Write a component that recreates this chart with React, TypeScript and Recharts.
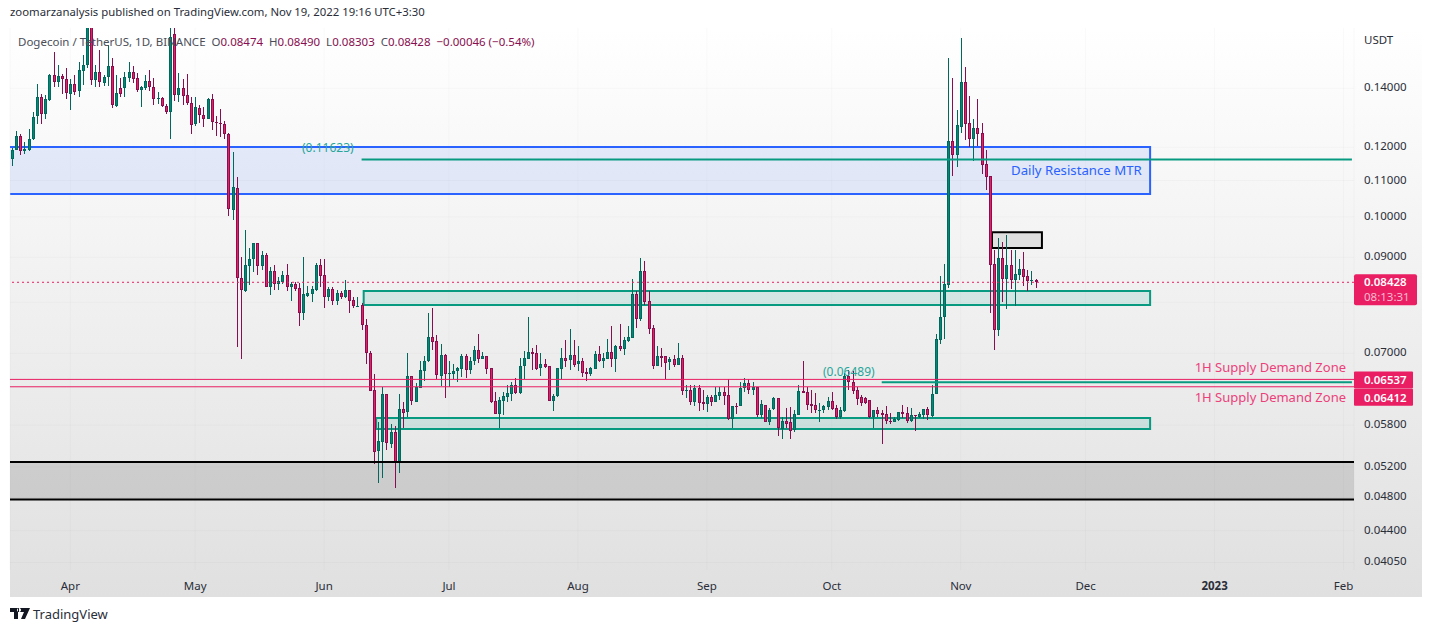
import {
  ComposedChart, Bar, XAxis, YAxis, CartesianGrid, ReferenceArea, ReferenceLine,
} from 'recharts';

const FONT = '"Noto Sans", sans-serif';
const UP_FILL = '#00897b';
const UP_EDGE = '#00695c';
const DOWN_FILL = '#e91e63';
const DOWN_EDGE = '#880e4f';
const TEAL = '#089981';
const PINK = '#e91e63';
const BLUE = '#2962ff';

// daily candles, 2022-03-18 to 2022-11-19
const opens = [
  .1164,.1194,.1235,.1189,.1191,.1225,.1300,.1367,.1306,.1358,
  .1450,.1424,.1445,.1433,.1380,.1415,.1389,.1466,.1486,.1720,
  .1432,.1461,.1420,.1441,.1483,.1337,.1401,.1400,.1440,.1462,
  .1437,.1393,.1400,.1427,.1406,.1364,.1365,.1337,.1317,.1615,
  .1376,.1400,.1376,.1349,.1275,.1331,.1307,.1293,.1361,.1281,
  .1277,.1274,.1241,.1017,.1080,.0852,.0825,.0880,.0896,.0934,
  .0880,.0905,.0833,.0868,.0840,.0844,.0859,.0833,.0839,.0830,
  .0778,.0813,.0818,.0826,.0882,.0859,.0810,.0828,.0803,.0819,
  .0810,.0826,.0804,.0792,.0794,.0753,.0700,.0636,.0541,.0555,
  .0629,.0553,.0570,.0527,.0605,.0599,.0659,.0617,.0640,.0669,
  .0685,.0730,.0722,.0660,.0697,.0663,.0663,.0667,.0672,.0695,
  .0670,.0686,.0706,.0690,.0695,.0673,.0618,.0597,.0618,.0624,
  .0629,.0644,.0630,.0676,.0690,.0702,.0701,.0673,.0680,.0677,
  .0618,.0625,.0672,.0691,.0688,.0697,.0681,.0686,.0666,.0662,
  .0672,.0699,.0686,.0689,.0702,.0690,.0714,.0708,.0723,.0729,
  .0817,.0766,.0868,.0802,.0748,.0677,.0695,.0695,.0683,.0689,
  .0679,.0691,.0634,.0636,.0616,.0639,.0616,.0613,.0624,.0616,
  .0626,.0632,.0627,.0589,.0610,.0610,.0638,.0647,.0636,.0641,
  .0595,.0611,.0585,.0604,.0622,.0574,.0587,.0585,.0572,.0596,
  .0634,.0632,.0613,.0611,.0603,.0603,.0609,.0618,.0606,.0592,
  .0602,.0659,.0649,.0636,.0624,.0623,.0620,.0592,.0603,.0598,
  .0597,.0587,.0585,.0588,.0600,.0598,.0586,.0595,.0593,.0596,
  .0605,.0595,.0630,.0725,.0769,.0838,.1220,.1176,.1267,.1424,
  .1278,.1226,.1262,.1245,.1148,.1113,.0884,.0744,.0898,.0850,
  .0882,.0848,.0859,.0873,.0857,.0846,.08474,
];
const closes = [
  .1191,.1237,.1189,.1194,.1226,.1298,.1367,.1306,.1360,.1450,
  .1424,.1446,.1433,.1380,.1415,.1387,.1468,.1488,.1700,.1432,
  .1461,.1424,.1441,.1484,.1340,.1382,.1379,.1441,.1462,.1436,
  .1391,.1404,.1427,.1406,.1362,.1365,.1337,.1317,.1601,.1376,
  .1400,.1372,.1348,.1275,.1332,.1306,.1293,.1361,.1283,.1276,
  .1274,.1241,.1019,.1081,.0853,.0825,.0882,.0896,.0934,.0880,
  .0905,.0833,.0868,.0839,.0846,.0859,.0833,.0839,.0829,.0778,
  .0817,.0819,.0828,.0882,.0856,.0810,.0828,.0803,.0819,.0810,
  .0826,.0803,.0792,.0793,.0754,.0699,.0634,.0541,.0556,.0629,
  .0553,.0570,.0527,.0605,.0599,.0659,.0617,.0641,.0670,.0686,
  .0730,.0721,.0660,.0697,.0663,.0665,.0668,.0673,.0695,.0670,
  .0686,.0706,.0690,.0695,.0672,.0616,.0597,.0620,.0626,.0631,
  .0644,.0630,.0677,.0691,.0702,.0699,.0673,.0680,.0675,.0618,
  .0626,.0673,.0691,.0686,.0697,.0679,.0686,.0665,.0662,.0673,
  .0699,.0686,.0691,.0702,.0690,.0714,.0708,.0725,.0730,.0817,
  .0766,.0868,.0800,.0746,.0677,.0695,.0692,.0683,.0689,.0679,
  .0691,.0634,.0635,.0616,.0639,.0615,.0613,.0624,.0616,.0627,
  .0632,.0625,.0589,.0610,.0609,.0639,.0647,.0636,.0641,.0595,
  .0613,.0585,.0604,.0622,.0575,.0586,.0583,.0572,.0597,.0634,
  .0631,.0611,.0610,.0603,.0604,.0610,.0618,.0605,.0592,.0603,
  .0659,.0648,.0634,.0622,.0615,.0615,.0593,.0603,.0597,.0595,
  .0586,.0585,.0589,.0600,.0597,.0586,.0595,.0593,.0597,.0605,
  .0595,.0630,.0727,.0769,.0838,.1220,.1176,.1272,.1424,.1275,
  .1226,.1262,.1241,.1145,.1110,.0882,.0744,.0898,.0850,.0882,
  .0848,.0861,.0873,.0854,.0846,.0847,.08428,
];
const highs = [
  .1197,.1251,.1241,.1218,.1258,.1315,.1416,.1379,.1376,.1454,
  .1541,.1488,.1454,.1478,.1434,.1450,.1499,.1527,.1780,.1800,
  .1488,.1546,.1450,.1568,.1514,.1450,.1437,.1463,.1499,.1483,
  .1456,.1408,.1450,.1469,.1437,.1385,.1367,.1343,.1750,.1780,
  .1456,.1433,.1454,.1367,.1367,.1341,.1332,.1364,.1379,.1302,
  .1325,.1286,.1245,.1185,.1110,.0900,.0966,.0922,.0934,.0934,
  .0915,.0910,.0877,.0882,.0855,.0868,.0884,.0843,.0843,.0841,
  .0900,.0834,.0834,.0886,.0896,.0896,.0833,.0832,.0826,.0824,
  .0848,.0826,.0811,.0811,.0798,.0766,.0704,.0663,.0584,.0641,
  .0629,.0581,.0578,.0629,.0616,.0700,.0659,.0648,.0686,.0695,
  .0777,.0788,.0734,.0717,.0699,.0686,.0681,.0676,.0699,.0699,
  .0693,.0714,.0736,.0703,.0695,.0673,.0632,.0624,.0633,.0644,
  .0649,.0656,.0692,.0704,.0770,.0710,.0716,.0701,.0690,.0677,
  .0629,.0673,.0710,.0725,.0746,.0724,.0714,.0691,.0673,.0676,
  .0704,.0714,.0701,.0727,.0752,.0716,.0755,.0730,.0752,.0850,
  .0824,.0897,.0891,.0824,.0754,.0714,.0710,.0695,.0694,.0697,
  .0719,.0697,.0644,.0644,.0644,.0644,.0636,.0627,.0628,.0641,
  .0641,.0641,.0654,.0610,.0614,.0649,.0656,.0654,.0649,.0641,
  .0619,.0611,.0607,.0624,.0622,.0593,.0607,.0608,.0603,.0644,
  .0686,.0641,.0636,.0631,.0614,.0611,.0624,.0633,.0611,.0608,
  .0664,.0670,.0669,.0641,.0627,.0624,.0620,.0603,.0608,.0604,
  .0610,.0598,.0593,.0601,.0612,.0608,.0607,.0595,.0600,.0605,
  .0608,.0644,.0736,.0857,.0885,.1517,.1439,.1322,.1595,.1480,
  .1372,.1292,.1361,.1278,.1192,.1113,.0917,.0946,.0936,.0953,
  .0917,.0917,.0896,.0912,.0870,.0868,.08490,
];
const lows = [
  .1144,.1191,.1177,.1179,.1189,.1223,.1275,.1275,.1292,.1355,
  .1404,.1406,.1379,.1361,.1324,.1376,.1367,.1413,.1475,.1413,
  .1404,.1404,.1409,.1408,.1329,.1334,.1367,.1367,.1424,.1418,
  .1385,.1332,.1395,.1392,.1340,.1343,.1334,.1310,.1226,.1354,
  .1352,.1340,.1340,.1241,.1268,.1279,.1266,.1291,.1254,.1236,
  .1232,.1226,.1003,.0992,.0712,.0690,.0822,.0837,.0866,.0859,
  .0870,.0833,.0815,.0826,.0826,.0839,.0823,.0803,.0823,.0752,
  .0763,.0810,.0800,.0823,.0833,.0788,.0802,.0794,.0794,.0806,
  .0809,.0778,.0788,.0790,.0744,.0681,.0634,.0524,.0498,.0505,
  .0543,.0546,.0492,.0512,.0575,.0592,.0611,.0617,.0640,.0651,
  .0685,.0706,.0655,.0642,.0622,.0640,.0655,.0650,.0658,.0656,
  .0663,.0678,.0682,.0690,.0663,.0614,.0597,.0576,.0596,.0616,
  .0618,.0630,.0630,.0654,.0690,.0670,.0670,.0659,.0673,.0618,
  .0602,.0625,.0654,.0675,.0670,.0676,.0669,.0658,.0651,.0659,
  .0672,.0685,.0673,.0689,.0676,.0667,.0704,.0696,.0721,.0728,
  .0748,.0762,.0795,.0736,.0672,.0677,.0676,.0654,.0670,.0676,
  .0678,.0628,.0622,.0611,.0610,.0602,.0603,.0600,.0610,.0616,
  .0619,.0611,.0588,.0575,.0597,.0610,.0632,.0629,.0627,.0593,
  .0591,.0585,.0580,.0604,.0564,.0559,.0575,.0560,.0569,.0596,
  .0631,.0603,.0598,.0598,.0585,.0598,.0603,.0603,.0589,.0589,
  .0600,.0636,.0629,.0611,.0610,.0613,.0591,.0575,.0593,.0552,
  .0582,.0582,.0585,.0587,.0591,.0583,.0584,.0571,.0591,.0590,
  .0588,.0593,.0629,.0717,.0727,.0830,.1113,.1140,.1246,.1223,
  .1200,.1157,.1204,.1119,.1073,.0777,.0706,.0732,.0800,.0786,
  .0828,.0792,.0848,.0835,.0824,.0837,.08303,
];

const priceTicks = [0.14, 0.12, 0.11, 0.1, 0.09, 0.08, 0.07, 0.058, 0.052, 0.048, 0.044, 0.0405];
const lastPrice = 0.08428;
const supplyLow = 0.06412;
const supplyHigh = 0.06537;
const priceTags = [lastPrice, supplyHigh, supplyLow];
const monthTicks = ['2022-04-01', '2022-05-01', '2022-06-01', '2022-07-01', '2022-08-01', '2022-09-01',
  '2022-10-01', '2022-11-01', '2022-12-01', '2023-01-01', '2023-02-01'];
const monthLabels = ['Apr', 'May', 'Jun', 'Jul', 'Aug', 'Sep', 'Oct', 'Nov', 'Dec', '2023', 'Feb'];

const firstDay = Date.UTC(2022, 2, 18);
const DAY_COUNT = 323;
const dayKey = (i: number) => new Date(firstDay + i * 86400000).toISOString().slice(0, 10);
const rows = Array.from({ length: DAY_COUNT }, (_, i) => {
  const date = dayKey(i);
  if (i >= opens.length) return { date };
  return {
    date,
    up: closes[i] >= opens[i],
    wick: [lows[i], highs[i]],
    body: [Math.min(opens[i], closes[i]), Math.max(opens[i], closes[i])],
  };
});
const lastDay = dayKey(DAY_COUNT - 1);

function Wick(props: any) {
  const { x, y, width, height, payload } = props;
  if (!payload || !payload.wick || !height) return null;
  return (
    <rect x={Math.round(x + width / 2 - 0.5)} y={y} width={1} height={height}
      fill={payload.up ? UP_EDGE : DOWN_EDGE} shapeRendering="crispEdges" />
  );
}

function Body(props: any) {
  const { x, y, width, height, payload } = props;
  if (!payload || !payload.body) return null;
  const cx = Math.round(x + width / 2 - 0.5);
  const top = Math.round(y);
  const h = Math.max(Math.round(height), 1);
  return (
    <g shapeRendering="crispEdges">
      <rect x={cx - 1} y={top} width={3} height={h} fill={payload.up ? UP_EDGE : DOWN_EDGE} />
      {h > 2 && <rect x={cx} y={top + 1} width={1} height={h - 2} fill={payload.up ? UP_FILL : DOWN_FILL} />}
    </g>
  );
}

function MonthTick(props: any) {
  const { x, y, payload } = props;
  const label = monthLabels[monthTicks.indexOf(payload.value)];
  return (
    <text x={x} y={y + 12} textAnchor="middle" fontFamily={FONT} fontSize={11.5}
      fontWeight={label === '2023' ? 700 : 400} fill="#2a2e39">{label}</text>
  );
}

function PriceTick(props: any) {
  const { x, y, payload } = props;
  const v = payload.value;
  const textX = x + 2;
  if (v === lastPrice) {
    return (
      <g fontFamily={FONT} fontSize={11.5} fontWeight={600}>
        <rect x={textX - 10} y={y - 8} width={63} height={31} rx={2} fill={PINK} />
        <text x={textX} y={y + 4} fill="#fff">0.08428</text>
        <text x={textX} y={y + 19} fill="#f8bbd0" fontWeight={400}>08:13:31</text>
      </g>
    );
  }
  if (v === supplyHigh || v === supplyLow) {
    const top = v === supplyHigh ? y - 8 : y + 2;
    return (
      <g fontFamily={FONT} fontSize={11.5} fontWeight={600}>
        <rect x={textX - 10} y={top} width={59} height={17} rx={1} fill={PINK} />
        <text x={textX} y={top + 13} fill="#fff">{v === supplyHigh ? '0.06537' : '0.06412'}</text>
      </g>
    );
  }
  return (
    <text x={textX} y={y + 3} fontFamily={FONT} fontSize={11.5} fill="#2a2e39">{v.toFixed(5)}</text>
  );
}

const note = (left: number, top: number, color: string, size: number, text: string, right?: boolean) => (
  <div style={{
    position: 'absolute', top, [right ? 'right' : 'left']: left, color, fontSize: size,
    lineHeight: '16px', whiteSpace: 'nowrap', fontFamily: FONT,
  }}>{text}</div>
);

export default function App() {
  return (
    <div style={{ position: 'absolute', left: 0, top: 0, width: 1432, height: 632, background: '#fff', overflow: 'hidden' }}>
      <div style={{ position: 'absolute', left: 10, top: 28, width: 1412, height: 569, background: 'linear-gradient(#ffffff, #e0e0e0)' }} />
      <div style={{ position: 'absolute', left: 0, top: 0 }}>
        <ComposedChart width={1432} height={632} data={rows} barGap={0}
          margin={{ top: 28, right: 10, bottom: 35, left: 10 }}>
          <CartesianGrid xAxisId="time" stroke="rgba(0,0,0,0.025)" horizontalValues={priceTicks} />
          <XAxis xAxisId="time" dataKey="date" ticks={monthTicks} interval={0} height={27}
            axisLine={false} tickLine={false} tick={MonthTick} />
          <XAxis xAxisId="wicks" dataKey="date" hide />
          <YAxis orientation="right" width={68} type="number" scale="log" allowDataOverflow
            domain={[0.0397, 0.16394]} ticks={[...priceTicks, ...priceTags]} interval={0}
            axisLine={false} tickLine={false} tick={PriceTick} />

          {/* dash gap hides the left side of the box, it runs off the chart */}
          <ReferenceArea xAxisId="time" x2="2022-12-16" y1={0.1062} y2={0.1201}
            fill={BLUE} fillOpacity={0.1} stroke={BLUE} strokeWidth={2} strokeDasharray="2327 60" />
          <ReferenceArea xAxisId="time" x1="2022-06-11" x2="2022-12-16" y1={0.0794} y2={0.0824}
            fill={TEAL} fillOpacity={0.12} stroke={TEAL} strokeWidth={2} />
          <ReferenceArea xAxisId="time" x1="2022-06-14" x2="2022-12-16" y1={0.0574} y2={0.0591}
            fill={TEAL} fillOpacity={0.12} stroke={TEAL} strokeWidth={2} />
          <ReferenceArea xAxisId="time" y1={0.04773} y2={0.05268} fill="#000" fillOpacity={0.11} />
          <ReferenceArea xAxisId="time" x1="2022-11-09" x2="2022-11-20" y1={0.0922} y2={0.0961}
            fill="#000" fillOpacity={0.08} stroke="#000" strokeWidth={2} />
          <ReferenceLine xAxisId="time" y={0.05268} stroke="#000" strokeWidth={2} />
          <ReferenceLine xAxisId="time" y={0.04773} stroke="#000" strokeWidth={2} />
          <ReferenceLine xAxisId="time" y={lastPrice} stroke={PINK} strokeDasharray="2 3" />
          <ReferenceLine xAxisId="time" y={supplyHigh} stroke={PINK} />
          <ReferenceLine xAxisId="time" y={supplyLow} stroke={PINK} />
          <ReferenceLine xAxisId="time" stroke={TEAL} strokeWidth={2}
            segment={[{ x: '2022-06-10', y: 0.11623 }, { x: lastDay, y: 0.11623 }]} />
          <ReferenceLine xAxisId="time" stroke={TEAL} strokeWidth={2}
            segment={[{ x: '2022-10-13', y: 0.06489 }, { x: lastDay, y: 0.06489 }]} />

          <Bar xAxisId="wicks" dataKey="wick" barSize={1} shape={Wick} isAnimationActive={false} />
          <Bar xAxisId="time" dataKey="body" barSize={3} shape={Body} isAnimationActive={false} />
        </ComposedChart>
      </div>

      {note(10, 4, '#2a2e39', 11.35, 'zoomarzanalysis published on TradingView.com, Nov 19, 2022 19:16 UTC+3:30')}
      <div style={{ position: 'absolute', left: 18, top: 34, fontFamily: FONT, fontSize: 11.5, lineHeight: '16px', color: '#4a4e59', whiteSpace: 'pre' }}>
        {'Dogecoin / TetherUS, 1D, BINANCE  O'}<span style={{ color: '#880e4f' }}>0.08474</span>
        {'  H'}<span style={{ color: '#880e4f' }}>0.08490</span>
        {'  L'}<span style={{ color: '#880e4f' }}>0.08303</span>
        {'  C'}<span style={{ color: '#880e4f' }}>0.08428  −0.00046 (−0.54%)</span>
      </div>
      {note(1364, 32, '#2a2e39', 11.5, 'USDT')}
      {note(302, 140, '#26a69a', 12, '(0.11623)')}
      {note(823, 364, '#26a69a', 12, '(0.06489)')}
      {note(1011, 162, BLUE, 13.2, 'Daily Resistance MTR')}
      {note(86, 359, '#ec407a', 13, '1H Supply Demand Zone', true)}
      {note(86, 389, '#ec407a', 13, '1H Supply Demand Zone', true)}

      <svg style={{ position: 'absolute', left: 10, top: 608 }} width={20} height={11} viewBox="0 0 20 11">
        <path d="M0 0h8v11H4V4H0zM9 0h11l-5 11h-4l3-7H9z M9 0a2 2 0 1 0 0.01 0" fill="#131722" />
      </svg>
      {note(33, 606, '#2a2e39', 13, 'TradingView')}
    </div>
  );
}
